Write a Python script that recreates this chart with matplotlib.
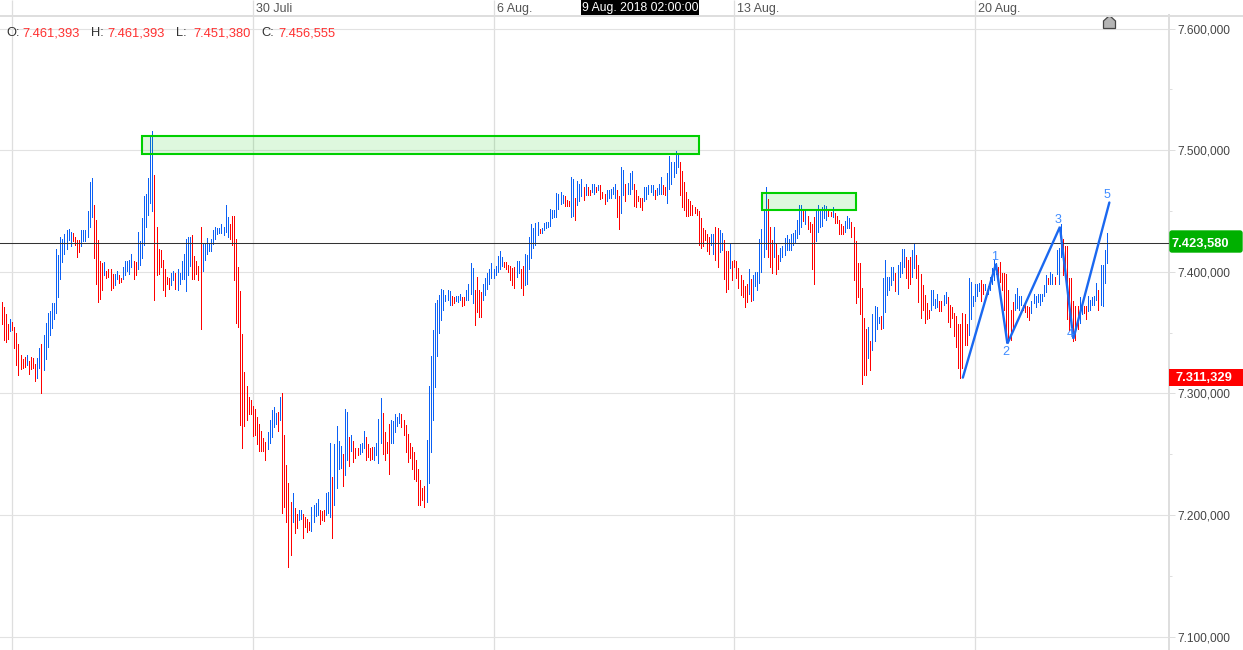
import numpy as np
import matplotlib
matplotlib.use('Agg')
import matplotlib.pyplot as plt
from matplotlib.patches import FancyBboxPatch, Polygon, Rectangle
from matplotlib.transforms import IdentityTransform

plt.rcParams['font.family'] = ['Liberation Sans', 'DejaVu Sans']

# hourly high / low in thousands, ten bars a row
highs = [
    7375, 7371, 7365, 7357, 7361, 7359, 7355, 7350, 7341, 7332,
    7328, 7330, 7332, 7327, 7330, 7329, 7324, 7329, 7337, 7341,
    7348, 7358, 7366, 7368, 7374, 7374, 7419, 7414, 7429, 7427,
    7431, 7434, 7435, 7433, 7432, 7429, 7426, 7426, 7434, 7434,
    7434, 7450, 7474, 7477, 7455, 7443, 7426, 7409, 7407, 7408,
    7401, 7402, 7402, 7398, 7398, 7401, 7397, 7395, 7404, 7409,
    7409, 7410, 7415, 7409, 7408, 7433, 7425, 7444, 7462, 7464,
    7477, 7511, 7516, 7480, 7437, 7419, 7418, 7410, 7402, 7396,
    7395, 7399, 7401, 7399, 7402, 7399, 7409, 7415, 7427, 7429,
    7429, 7430, 7413, 7409, 7405, 7437, 7423, 7423, 7428, 7423,
    7427, 7434, 7437, 7436, 7436, 7439, 7437, 7455, 7445, 7439,
    7446, 7446, 7427, 7404, 7384, 7349, 7318, 7306, 7297, 7295,
    7290, 7287, 7281, 7275, 7269, 7263, 7260, 7268, 7278, 7286,
    7289, 7284, 7285, 7297, 7300, 7266, 7241, 7226, 7211, 7218,
    7206, 7201, 7204, 7204, 7201, 7198, 7197, 7194, 7207, 7208,
    7210, 7213, 7204, 7203, 7204, 7218, 7219, 7259, 7231, 7258,
    7273, 7261, 7257, 7250, 7287, 7285, 7264, 7266, 7261, 7255,
    7255, 7258, 7259, 7269, 7264, 7258, 7255, 7256, 7256, 7259,
    7279, 7296, 7284, 7268, 7260, 7275, 7278, 7277, 7283, 7281,
    7284, 7283, 7278, 7274, 7267, 7259, 7256, 7252, 7245, 7238,
    7229, 7222, 7224, 7262, 7306, 7331, 7352, 7374, 7377, 7381,
    7386, 7385, 7381, 7385, 7384, 7380, 7379, 7380, 7380, 7382,
    7379, 7379, 7385, 7390, 7407, 7403, 7385, 7396, 7385, 7383,
    7390, 7395, 7399, 7402, 7407, 7402, 7405, 7413, 7417, 7412,
    7408, 7408, 7406, 7405, 7403, 7404, 7409, 7409, 7402, 7405,
    7415, 7414, 7429, 7439, 7436, 7440, 7441, 7435, 7436, 7440,
    7441, 7441, 7452, 7451, 7451, 7465, 7464, 7466, 7463, 7462,
    7459, 7458, 7478, 7476, 7461, 7475, 7472, 7476, 7470, 7472,
    7470, 7467, 7472, 7472, 7470, 7471, 7471, 7466, 7464, 7467,
    7467, 7468, 7470, 7472, 7467, 7462, 7486, 7484, 7472, 7473,
    7481, 7483, 7472, 7467, 7462, 7461, 7461, 7470, 7470, 7471,
    7471, 7471, 7467, 7469, 7472, 7478, 7471, 7470, 7481, 7495,
    7490, 7490, 7499, 7496, 7490, 7483, 7474, 7466, 7460, 7458,
    7455, 7453, 7452, 7450, 7444, 7436, 7434, 7431, 7429, 7431,
    7431, 7437, 7436, 7434, 7432, 7426, 7417, 7417, 7424, 7409,
    7410, 7409, 7403, 7397, 7393, 7388, 7390, 7402, 7394, 7397,
    7400, 7400, 7427, 7435, 7452, 7470, 7460, 7437, 7426, 7437,
    7423, 7414, 7420, 7421, 7428, 7430, 7427, 7431, 7432, 7434,
    7443, 7455, 7455, 7451, 7451, 7446, 7441, 7439, 7445, 7452,
    7455, 7452, 7453, 7455, 7454, 7451, 7449, 7453, 7448, 7446,
    7443, 7439, 7438, 7442, 7446, 7444, 7441, 7437, 7425, 7407,
    7407, 7387, 7362, 7353, 7355, 7343, 7365, 7372, 7371, 7363,
    7364, 7395, 7410, 7396, 7396, 7404, 7404, 7399, 7406, 7408,
    7419, 7419, 7412, 7410, 7412, 7418, 7423, 7414, 7406, 7398,
    7389, 7381, 7374, 7369, 7385, 7385, 7378, 7382, 7376, 7376,
    7381, 7383, 7379, 7373, 7371, 7366, 7364, 7357, 7357, 7366,
    7365, 7357, 7395, 7392, 7380, 7390, 7390, 7391, 7393, 7390,
    7390, 7388, 7396, 7403, 7410, 7407, 7404, 7408, 7399, 7399,
    7398, 7385, 7369, 7375, 7382, 7387, 7380, 7380, 7373, 7375,
    7372, 7371, 7376, 7382, 7380, 7382, 7382, 7382, 7389, 7397,
    7395, 7400, 7398, 7396, 7418, 7420, 7439, 7427, 7421, 7421,
    7395, 7395, 7376, 7372, 7372, 7379, 7374, 7372, 7372, 7380,
    7377, 7379, 7380, 7391, 7385, 7406, 7406, 7418, 7432,
]
lows = [
    7357, 7344, 7342, 7345, 7351, 7352, 7337, 7323, 7315, 7320,
    7321, 7322, 7323, 7316, 7320, 7321, 7310, 7313, 7321, 7300,
    7319, 7328, 7338, 7348, 7354, 7361, 7366, 7379, 7394, 7408,
    7415, 7419, 7426, 7421, 7425, 7422, 7412, 7416, 7421, 7425,
    7425, 7429, 7437, 7445, 7411, 7390, 7375, 7378, 7385, 7397,
    7395, 7396, 7385, 7387, 7389, 7394, 7391, 7392, 7394, 7397,
    7401, 7398, 7404, 7394, 7397, 7402, 7406, 7411, 7422, 7437,
    7447, 7457, 7450, 7377, 7397, 7398, 7404, 7385, 7380, 7390,
    7386, 7389, 7393, 7386, 7385, 7390, 7394, 7394, 7384, 7397,
    7405, 7394, 7394, 7398, 7393, 7353, 7401, 7410, 7415, 7417,
    7417, 7423, 7427, 7431, 7432, 7432, 7430, 7433, 7429, 7427,
    7422, 7393, 7358, 7355, 7274, 7255, 7273, 7278, 7283, 7283,
    7265, 7266, 7258, 7253, 7253, 7253, 7245, 7254, 7259, 7264,
    7272, 7275, 7269, 7278, 7202, 7207, 7194, 7157, 7167, 7194,
    7185, 7189, 7196, 7197, 7181, 7190, 7186, 7188, 7187, 7194,
    7199, 7200, 7193, 7196, 7195, 7200, 7202, 7198, 7181, 7208,
    7222, 7238, 7239, 7224, 7233, 7245, 7240, 7253, 7244, 7247,
    7249, 7250, 7252, 7255, 7245, 7248, 7245, 7246, 7245, 7249,
    7243, 7259, 7250, 7245, 7251, 7234, 7259, 7259, 7268, 7273,
    7276, 7272, 7266, 7252, 7244, 7247, 7238, 7230, 7228, 7208,
    7208, 7212, 7207, 7211, 7226, 7252, 7278, 7305, 7331, 7350,
    7360, 7369, 7376, 7377, 7373, 7373, 7374, 7376, 7375, 7377,
    7372, 7373, 7377, 7377, 7382, 7374, 7356, 7367, 7363, 7363,
    7377, 7381, 7386, 7390, 7395, 7395, 7397, 7400, 7402, 7405,
    7404, 7402, 7400, 7393, 7389, 7387, 7396, 7399, 7387, 7381,
    7389, 7390, 7402, 7411, 7420, 7422, 7430, 7432, 7432, 7434,
    7436, 7437, 7438, 7444, 7445, 7445, 7452, 7456, 7457, 7454,
    7454, 7454, 7445, 7446, 7443, 7455, 7458, 7462, 7459, 7463,
    7463, 7463, 7466, 7464, 7466, 7467, 7460, 7461, 7456, 7458,
    7461, 7461, 7464, 7461, 7445, 7435, 7448, 7463, 7458, 7464,
    7464, 7468, 7454, 7453, 7458, 7453, 7451, 7458, 7460, 7464,
    7466, 7463, 7460, 7463, 7464, 7464, 7464, 7463, 7457, 7468,
    7472, 7478, 7481, 7486, 7463, 7453, 7451, 7446, 7446, 7447,
    7447, 7448, 7447, 7422, 7420, 7421, 7426, 7417, 7415, 7422,
    7415, 7410, 7404, 7416, 7418, 7394, 7383, 7386, 7403, 7393,
    7404, 7395, 7387, 7381, 7379, 7371, 7375, 7382, 7376, 7377,
    7388, 7385, 7391, 7400, 7412, 7419, 7412, 7404, 7399, 7412,
    7398, 7402, 7409, 7412, 7414, 7418, 7418, 7418, 7422, 7424,
    7428, 7431, 7437, 7442, 7439, 7435, 7433, 7402, 7390, 7425,
    7433, 7437, 7438, 7444, 7443, 7446, 7446, 7445, 7440, 7440,
    7431, 7431, 7431, 7433, 7436, 7436, 7429, 7393, 7374, 7379,
    7365, 7308, 7315, 7315, 7329, 7319, 7336, 7343, 7353, 7358,
    7353, 7354, 7367, 7381, 7385, 7389, 7393, 7384, 7382, 7396,
    7399, 7404, 7395, 7387, 7390, 7396, 7403, 7395, 7375, 7362,
    7369, 7358, 7361, 7362, 7369, 7373, 7370, 7371, 7368, 7368,
    7373, 7374, 7359, 7355, 7362, 7347, 7338, 7321, 7313, 7321,
    7340, 7340, 7348, 7361, 7372, 7376, 7380, 7384, 7376, 7382,
    7385, 7382, 7385, 7390, 7393, 7398, 7390, 7392, 7385, 7369,
    7342, 7342, 7344, 7352, 7369, 7370, 7369, 7373, 7369, 7367,
    7363, 7360, 7366, 7374, 7371, 7375, 7373, 7376, 7380, 7383,
    7390, 7390, 7390, 7390, 7398, 7390, 7412, 7397, 7397, 7361,
    7352, 7360, 7343, 7344, 7353, 7358, 7365, 7366, 7361, 7368,
    7369, 7373, 7373, 7377, 7369, 7373, 7372, 7391, 7407,
]
# r = falling bar, b = rising bar
direction = (
    "rrrrbrrrrr" "rrbrrrrbbr" "bbbbbbbbbb" "bbbbrrrrbb" "bbbbrrrrrb"
    "rrrrbbrrbb" "bbbrrbbbbb" "bbbrrrrrrr" "rbbrbbbbbb" "brrrrrbbbb"
    "bbbbbbbbbr" "rrrrrrrrrr" "rrrrrrrbbb" "bbrbrrrrrb" "rrbbrrrrbb"
    "bbrrrbbbrb" "bbbrbbrbrr" "rbbbrrrrbb" "bbrrrrbbbb" "brrrrrrrrr"
    "rrrbbbbbbb" "bbbbbrrbbb" "rrbbbbrrrr" "bbbbbbbbbb" "rrrrrrbbrr"
    "bbbbbbbrbb" "bbbbbbbbbr" "rrbbrbbbrb" "rrbbrbrrrb" "bbbbrrbbrb"
    "bbrrrrrbbb" "bbrbbbrrbb" "bbbbrrrrrr" "rrrrrrrrrb" "brrbbrrrbr"
    "rrrrrrrbrb" "bbbbbbrrrb" "rrbbbbbbbb" "bbbrbrrrrb" "bbbbbrrbrr"
    "rrrbbbrrrr" "rrrrbrbbbb" "rbbbbbbrbb" "bbrrrbbrrr" "rrrrbbbbrr"
    "bbrrrrrrrr" "rrbbbbbbrr" "bbbbbbrrrr" "rrrrbbbbrr" "rrbbbbbbbb"
    "rbbrbbbrrr" "rrrrrbbrrb" "bbbbrbbbb"
)

wave_x = [460.2, 476, 481.5, 506.6, 513, 530.2]
wave_y = [7313, 7406.5, 7341, 7437, 7345, 7457]
wave_labels = ['1', '2', '3', '4', '5']
wave_label_x = [475.2, 480.5, 505.5, 511.5, 529]
wave_label_y = [7412, 7334, 7443, 7349, 7463]

zones = [(68, 334.2, 7497, 7512), (364.2, 409.2, 7450.5, 7465)]

day_ticks = [5.9, 121.1, 236.2, 351, 466]
day_labels = ['', '30 Juli', '6 Aug.', '13 Aug.', '20 Aug.']
price_ticks = [7100, 7200, 7300, 7400, 7500, 7600]
price_labels = ['7.100,000', '7.200,000', '7.300,000', '7.400,000', '7.500,000', '7.600,000']
price_minor = [7150, 7250, 7350, 7450, 7550]
last_price = 7423.58

ohlc_names = ['O:', 'H:', 'L:', 'C:']
ohlc_values = ['7.461,393', '7.461,393', '7.451,380', '7.456,555']

GRID = '#dedede'
RED = '#ff0000'
BLUE = '#0a60f5'


def px(x, y):
    return x, 650 - y


fig = plt.figure(figsize=(12.43, 6.5), dpi=100)
ax = fig.add_axes([0, 0, 1169 / 1243, 635 / 650])
ax.set_xlim(0.188, 558.7)
ax.set_ylim(7089.0, 7611.2)

for s in ['left', 'bottom', 'top']:
    ax.spines[s].set_visible(False)
ax.spines['right'].set_color(GRID)
ax.spines['right'].set_linewidth(1.44)

ax.xaxis.tick_top()
ax.yaxis.tick_right()
ax.set_xticks(day_ticks)
ax.set_xticklabels([])
ax.set_yticks(price_ticks)
ax.set_yticklabels(price_labels)
ax.set_yticks(price_minor, minor=True)
ax.tick_params(axis='x', length=10.8, width=0.9, color=GRID)
ax.tick_params(axis='y', length=4.3, width=0.72, color=GRID, pad=1.5,
               labelsize=8.6, labelcolor='#444444')
ax.tick_params(axis='y', which='minor', length=2.5, width=0.72, color=GRID)
ax.grid(True, axis='x', color=GRID, linewidth=0.9)
ax.grid(True, axis='y', color='#e2e2e2', linewidth=0.8)
ax.set_axisbelow(True)

bar_x = np.arange(1, len(highs) + 1)
bar_colors = [RED if d == 'r' else BLUE for d in direction]
ax.vlines(bar_x, lows, highs, colors=bar_colors, linewidth=0.72,
          antialiased=False, zorder=2)

ax.axhline(last_price, color='#333333', linewidth=0.75, zorder=3)

for x0, x1, y0, y1 in zones:
    ax.add_patch(Rectangle((x0, y0), x1 - x0, y1 - y0, facecolor=(0, 0.8, 0, 0.13),
                           edgecolor='#00d000', linewidth=1.5, zorder=4))

ax.plot(wave_x, wave_y, color='#1a68f0', linewidth=1.7, zorder=5,
        solid_capstyle='round', solid_joinstyle='miter')
for lx, ly, t in zip(wave_label_x, wave_label_y, wave_labels):
    ax.text(lx, ly, t, color='#3f8cff', fontsize=9, ha='center', va='center', zorder=6)

for x, t in zip(day_ticks, day_labels):
    ax.annotate(t, xy=(x, 1), xycoords=('data', 'axes fraction'), xytext=(3, 6),
                textcoords='offset pixels', fontsize=9, color='#555555',
                ha='left', va='center', annotation_clip=False)

# header band line and crosshair date
top_x, top_y = px(0, 15.5)
fig.add_artist(plt.Line2D([0, 1243], [top_y, top_y], color='#dedede', linewidth=1.44,
                          transform=IdentityTransform()))
x0, y0 = px(581, 15)
fig.add_artist(Rectangle((x0, y0), 118, 15, facecolor='black', edgecolor='none',
                         transform=IdentityTransform()))
cx, cy = px(640, 7.5)
fig.text(cx / 1243, cy / 650, '9 Aug. 2018 02:00:00', color='white', fontsize=8.7,
         ha='center', va='center')

# OHLC readout
name_x = [6, 91, 176, 261]
value_x = [22, 107, 193, 278]
for n, v, nx, vx in zip(ohlc_names, ohlc_values, name_x, value_x):
    fig.text(nx / 1243, 1 - 33 / 650, n, color='#333333', fontsize=9.3, ha='left', va='center')
    fig.text(vx / 1243, 1 - 33 / 650, v, color='#ff3030', fontsize=9.3, ha='left', va='center')

# price tags
x0, y0 = px(1170, 252)
fig.add_artist(FancyBboxPatch((x0, y0), 72, 21, boxstyle='round,pad=0,rounding_size=2',
                              facecolor='#00b000', edgecolor='#00b000', linewidth=1,
                              transform=IdentityTransform()))
fig.text(1172 / 1243, 1 - 244 / 650, '7.423,580', color='white', fontsize=9.3,
         fontweight='bold', ha='left', va='center')
x0, y0 = px(1169, 386)
fig.add_artist(Rectangle((x0, y0), 74, 17, facecolor='#ff0000', edgecolor='none',
                         transform=IdentityTransform()))
fig.text(1175 / 1243, 1 - 378 / 650, '7.311,329', color='white', fontsize=9.3,
         fontweight='bold', ha='left', va='center')

# scroll marker
house = [px(1103.5, 28.5), px(1103.5, 21), px(1109.5, 15.5), px(1115.5, 21), px(1115.5, 28.5)]
fig.add_artist(Polygon(house, closed=True, facecolor='#b4b4b4', edgecolor='#444444',
                       linewidth=0.9, transform=IdentityTransform()))

fig.savefig('out.png', dpi=100)
